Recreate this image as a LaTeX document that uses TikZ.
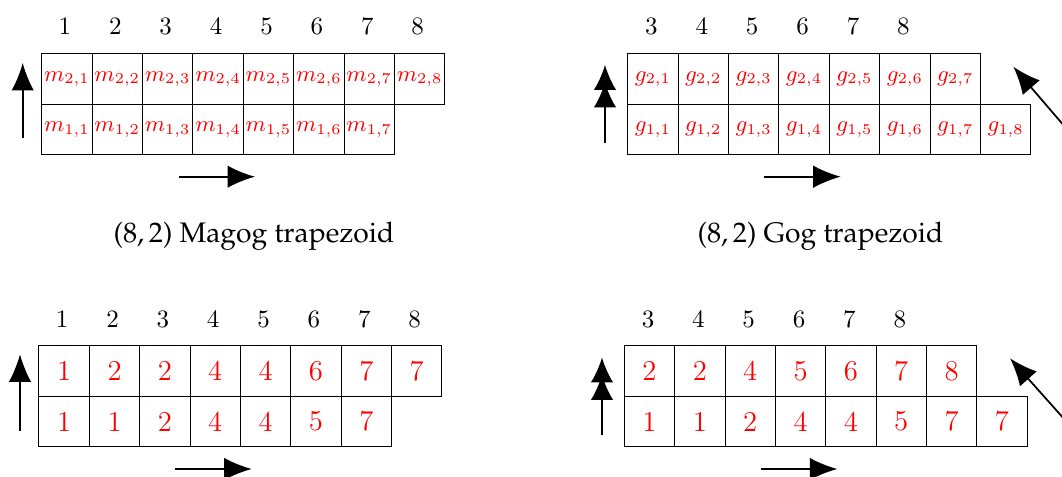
\documentclass[tikz,border=0pt]{standalone}
\usepackage[T1,TU]{fontenc}
\usetikzlibrary{arrows.meta}
\begin{document}
\begin{tikzpicture}[x=0.4pt,y=-0.4pt,
  cell/.style={draw, line width=0.4pt, minimum width=20.16pt, minimum height=20.16pt, inner sep=0pt, text=red},
  symcell/.style={cell, font=\fontsize{9}{11}\selectfont},
  cellnum/.style={cell, font=\fontsize{11.5}{13}\selectfont},
  colnum/.style={inner sep=0pt},
  capt/.style={inner sep=0pt, font=\fontencoding{T1}\fontfamily{ppl}\fontsize{11.3}{13}\selectfont},
  arr/.style={line width=0.7pt, -{Latex[length=11pt,width=9pt]}},
  darr/.style={line width=0.7pt, -{Latex[length=10pt,width=9pt,sep=-3pt]Latex[length=10pt,width=9pt]}}]
\useasboundingbox (0,0) rectangle (1062,477);
\clip (0,0) rectangle (1062,477);

% ---------- top-left: Magog symbols
\foreach \j in {1,...,8} {
  \node[symcell] (tl-2-\j) at ({66.9+(\j-1)*50.4},79.2) {$m_{2,\j}$};
  \node[colnum] (tl-c-\j) at ({64.9+(\j-1)*50.4},26.5) {\j};
}
\foreach \j in {1,...,7} {
  \node[symcell] (tl-1-\j) at ({66.9+(\j-1)*50.4},129.6) {$m_{1,\j}$};
}
\coordinate (tl-us) at (22.7,138); \coordinate (tl-ue) at (22.7,63);
\coordinate (tl-rs) at (179,176.7); \coordinate (tl-re) at (255,176.7);
\draw[arr] (tl-us) -- (tl-ue);
\draw[arr] (tl-rs) -- (tl-re);
\node[capt] (tl-cap) at (254,236.5) {(8,\,2) Magog trapezoid};

% ---------- top-right: Gog symbols
\foreach \j in {1,...,7} {
  \node[symcell] (tr-2-\j) at ({652.9+(\j-1)*50.4},79.2) {$g_{2,\j}$};
}
\foreach \j in {1,...,8} {
  \node[symcell] (tr-1-\j) at ({652.9+(\j-1)*50.4},129.6) {$g_{1,\j}$};
}
\foreach \v [count=\j] in {3,...,8} {
  \node[colnum] (tr-c-\j) at ({651.4+(\j-1)*50.4},26.5) {\v};
}
\coordinate (tr-us) at (605,142.7); \coordinate (tr-ue) at (605,65);
\coordinate (tr-rs) at (764.3,176.7); \coordinate (tr-re) at (840.7,176.7);
\coordinate (tr-ds) at (1090,156); \coordinate (tr-de) at (1013.3,66.7);
\draw[darr] (tr-us) -- (tr-ue);
\draw[arr] (tr-rs) -- (tr-re);
\draw[arr] (tr-ds) -- (tr-de);
\node[capt] (tr-cap) at (820.5,236.5) {(8,\,2) Gog trapezoid};

% ---------- bottom-left: Magog values
\foreach \v [count=\j] in {1,2,2,4,4,6,7,7} {
  \node[cellnum] (bl-2-\j) at ({64.2+(\j-1)*50.35},371.2) {\v};
  \node[colnum] (bl-c-\j) at ({62.2+(\j-1)*50.35},319.3) {\j};
}
\foreach \v [count=\j] in {1,1,2,4,4,5,7} {
  \node[cellnum] (bl-1-\j) at ({64.2+(\j-1)*50.35},421.5) {\v};
}
\coordinate (bl-us) at (20,430.7); \coordinate (bl-ue) at (20,354.3);
\coordinate (bl-rs) at (175,469); \coordinate (bl-re) at (251.7,469);
\draw[arr] (bl-us) -- (bl-ue);
\draw[arr] (bl-rs) -- (bl-re);

% ---------- bottom-right: Gog values
\foreach \v [count=\j] in {2,2,4,5,6,7,8} {
  \node[cellnum] (br-2-\j) at ({649.5+(\j-1)*50.35},371.2) {\v};
}
\foreach \v [count=\j] in {1,1,2,4,4,5,7,7} {
  \node[cellnum] (br-1-\j) at ({649.5+(\j-1)*50.35},421.5) {\v};
}
\foreach \v [count=\j] in {3,...,8} {
  \node[colnum] (br-c-\j) at ({648+(\j-1)*50.35},319.3) {\v};
}
\coordinate (br-us) at (602,435); \coordinate (br-ue) at (602,357.5);
\coordinate (br-rs) at (761,469); \coordinate (br-re) at (837.3,469);
\coordinate (br-ds) at (1090,448); \coordinate (br-de) at (1010,358.3);
\draw[darr] (br-us) -- (br-ue);
\draw[arr] (br-rs) -- (br-re);
\draw[arr] (br-ds) -- (br-de);
\end{tikzpicture}
\end{document}
